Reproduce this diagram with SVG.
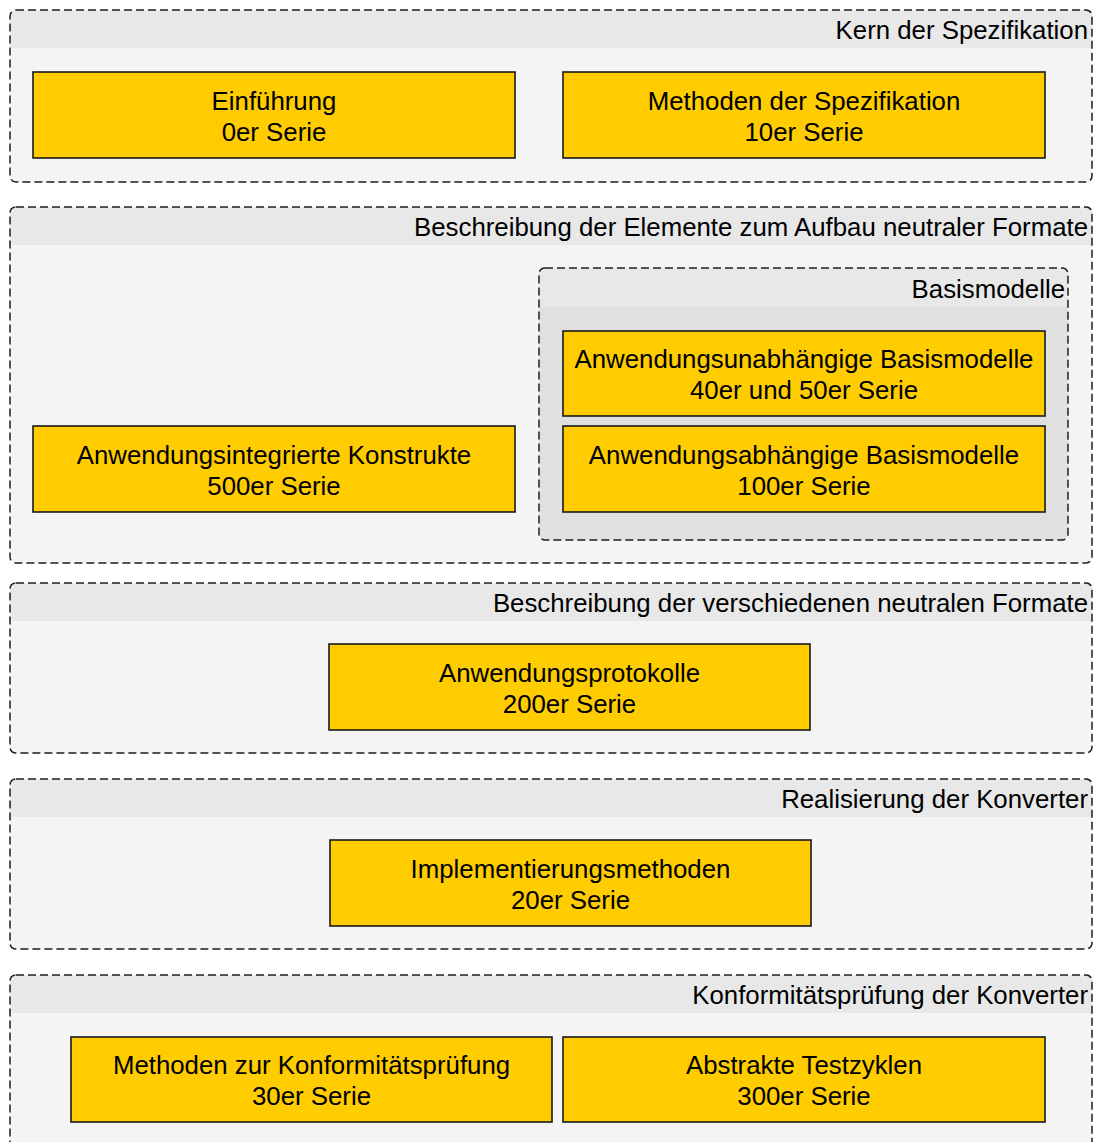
<svg xmlns="http://www.w3.org/2000/svg" width="1098" height="1142" viewBox="0 0 1098 1142">
  <defs>
    <style>
      .grp { fill: #f4f4f4; }
      .hdr { fill: #e8e8e8; }
      .sub { fill: #e0e0e0; }
      .frame { fill: none; stroke: #1e1e1e; stroke-width: 1.5; stroke-dasharray: 8 4; }
      .node { fill: #ffcc00; stroke: #1a1a1a; stroke-width: 1.6; }
      text { font-family: "Liberation Sans", Arial, sans-serif; font-size: 25.8px; fill: #000; }
      .title { text-anchor: end; }
      .label { text-anchor: middle; }
    </style>
    <clipPath id="clipG1"><rect x="10" y="10" width="1082" height="172" rx="6"/></clipPath>
    <clipPath id="clipG2"><rect x="10" y="207" width="1082" height="356" rx="6"/></clipPath>
    <clipPath id="clipG3"><rect x="10" y="583" width="1082" height="170" rx="6"/></clipPath>
    <clipPath id="clipG4"><rect x="10" y="779" width="1082" height="170" rx="6"/></clipPath>
    <clipPath id="clipG5"><rect x="10" y="975" width="1082" height="200" rx="6"/></clipPath>
    <clipPath id="clipB"><rect x="539" y="268" width="529" height="272" rx="6"/></clipPath>
  </defs>

  <rect width="1098" height="1142" fill="#ffffff"/>

  <!-- Kern der Spezifikation -->
  <g id="group-kern">
    <g clip-path="url(#clipG1)">
      <rect class="grp" x="10" y="10" width="1082" height="172"/>
      <rect class="hdr" x="10" y="10" width="1082" height="38"/>
    </g>
    <rect class="frame" x="10" y="10" width="1082" height="172" rx="6"/>
    <text class="title" x="1088" y="39">Kern der Spezifikation</text>
  </g>

  <!-- Beschreibung der Elemente -->
  <g id="group-elemente">
    <g clip-path="url(#clipG2)">
      <rect class="grp" x="10" y="207" width="1082" height="356"/>
      <rect class="hdr" x="10" y="207" width="1082" height="38"/>
    </g>
    <rect class="frame" x="10" y="207" width="1082" height="356" rx="6"/>
    <text class="title" x="1088" y="236">Beschreibung der Elemente zum Aufbau neutraler Formate</text>
  </g>

  <!-- Basismodelle (nested) -->
  <g id="group-basismodelle">
    <g clip-path="url(#clipB)">
      <rect class="sub" x="539" y="268" width="529" height="272"/>
      <rect class="hdr" x="539" y="268" width="529" height="39"/>
    </g>
    <rect class="frame" x="539" y="268" width="529" height="272" rx="6"/>
    <text class="title" x="1065" y="298">Basismodelle</text>
  </g>

  <!-- Beschreibung der verschiedenen neutralen Formate -->
  <g id="group-formate">
    <g clip-path="url(#clipG3)">
      <rect class="grp" x="10" y="583" width="1082" height="170"/>
      <rect class="hdr" x="10" y="583" width="1082" height="38"/>
    </g>
    <rect class="frame" x="10" y="583" width="1082" height="170" rx="6"/>
    <text class="title" x="1088" y="612">Beschreibung der verschiedenen neutralen Formate</text>
  </g>

  <!-- Realisierung der Konverter -->
  <g id="group-realisierung">
    <g clip-path="url(#clipG4)">
      <rect class="grp" x="10" y="779" width="1082" height="170"/>
      <rect class="hdr" x="10" y="779" width="1082" height="38"/>
    </g>
    <rect class="frame" x="10" y="779" width="1082" height="170" rx="6"/>
    <text class="title" x="1088" y="808">Realisierung der Konverter</text>
  </g>

  <!-- Konformitätsprüfung der Konverter -->
  <g id="group-konformitaet">
    <g clip-path="url(#clipG5)">
      <rect class="grp" x="10" y="975" width="1082" height="200"/>
      <rect class="hdr" x="10" y="975" width="1082" height="38"/>
    </g>
    <rect class="frame" x="10" y="975" width="1082" height="200" rx="6"/>
    <text class="title" x="1088" y="1004">Konformitätsprüfung der Konverter</text>
  </g>

  <!-- Nodes -->
  <g id="node-einfuehrung">
    <rect class="node" x="33" y="72" width="482" height="86"/>
    <text class="label" x="274" y="110">Einführung</text>
    <text class="label" x="274" y="141">0er Serie</text>
  </g>
  <g id="node-methoden-spezifikation">
    <rect class="node" x="563" y="72" width="482" height="86"/>
    <text class="label" x="804" y="110">Methoden der Spezifikation</text>
    <text class="label" x="804" y="141">10er Serie</text>
  </g>
  <g id="node-anwendungsunabhaengig">
    <rect class="node" x="563" y="331" width="482" height="85"/>
    <text class="label" x="804" y="368">Anwendungsunabhängige Basismodelle</text>
    <text class="label" x="804" y="399">40er und 50er Serie</text>
  </g>
  <g id="node-anwendungsabhaengig">
    <rect class="node" x="563" y="426" width="482" height="86"/>
    <text class="label" x="804" y="464">Anwendungsabhängige Basismodelle</text>
    <text class="label" x="804" y="495">100er Serie</text>
  </g>
  <g id="node-anwendungsintegriert">
    <rect class="node" x="33" y="426" width="482" height="86"/>
    <text class="label" x="274" y="464">Anwendungsintegrierte Konstrukte</text>
    <text class="label" x="274" y="495">500er Serie</text>
  </g>
  <g id="node-anwendungsprotokolle">
    <rect class="node" x="329" y="644" width="481" height="86"/>
    <text class="label" x="569.5" y="682">Anwendungsprotokolle</text>
    <text class="label" x="569.5" y="713">200er Serie</text>
  </g>
  <g id="node-implementierung">
    <rect class="node" x="330" y="840" width="481" height="86"/>
    <text class="label" x="570.5" y="878">Implementierungsmethoden</text>
    <text class="label" x="570.5" y="909">20er Serie</text>
  </g>
  <g id="node-methoden-konformitaet">
    <rect class="node" x="71" y="1037" width="481" height="85"/>
    <text class="label" x="311.5" y="1074">Methoden zur Konformitätsprüfung</text>
    <text class="label" x="311.5" y="1105">30er Serie</text>
  </g>
  <g id="node-testzyklen">
    <rect class="node" x="563" y="1037" width="482" height="85"/>
    <text class="label" x="804" y="1074">Abstrakte Testzyklen</text>
    <text class="label" x="804" y="1105">300er Serie</text>
  </g>

  <!-- No connectors in this diagram -->
  <g id="connectors"></g>
</svg>
